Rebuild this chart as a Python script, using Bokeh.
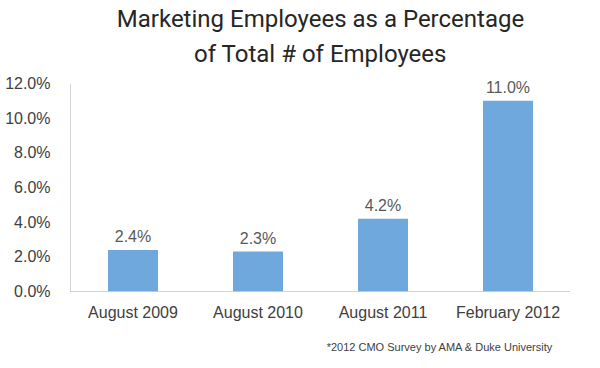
from bokeh.plotting import figure
from bokeh.models import ColumnDataSource, FixedTicker, PrintfTickFormatter, Title, LabelSet, Range1d
from bokeh.core.properties import value
from bokeh.embed import file_html
from bokeh.resources import INLINE

categories = ["August 2009", "August 2010", "August 2011", "February 2012"]
values = [2.4, 2.3, 4.2, 11.0]
labels = ["2.4%", "2.3%", "4.2%", "11.0%"]
y_ticks = [0, 2, 4, 6, 8, 10, 12]

FONT = "Liberation Sans"
TFONT = "Roboto"
TXT = "#404040"

src = ColumnDataSource(dict(cat=categories, val=values, lab=labels))

p = figure(x_range=categories, y_range=Range1d(0, 12.63), width=600, height=368,
           output_backend="svg", toolbar_location=None,
           min_border_left=70, min_border_right=30, min_border_top=72, min_border_bottom=76)
p.outline_line_color = None
p.xgrid.grid_line_color = None
p.ygrid.grid_line_color = None

p.vbar(x="cat", top="val", width=0.4, source=src, fill_color="#6FA8DC", line_color=None)

p.add_layout(LabelSet(x="cat", y="val", text="lab", source=src, text_align="center",
                      text_baseline="bottom", y_offset=5, text_font_size=value("16px"),
                      text_color=value("#595959"), text_font=value(FONT)))

for ax in (p.xaxis, p.yaxis):
    ax.axis_line_color = "#a6a6a6"
    ax.axis_line_dash = "1 1"
    ax.axis_line_width = 1
    ax.major_tick_line_color = None
    ax.minor_tick_line_color = None
    ax.major_label_text_font = FONT
    ax.major_label_text_font_size = "16px"
    ax.major_label_text_color = TXT

p.yaxis.ticker = FixedTicker(ticks=y_ticks)
p.yaxis.bounds = (0, 12)
p.yaxis.formatter = PrintfTickFormatter(format="%.1f%%")
p.yaxis.major_label_standoff = 14
p.xaxis.major_label_standoff = 6

p.title = None
foot = Title(text="*2012 CMO Survey by AMA & Duke University", align="right",
             text_font=FONT, text_font_size="11px", text_font_style="normal",
             text_color=TXT, offset=17, standoff=31)
p.add_layout(foot, "below")

t2 = Title(text="of Total # of Employees", align="center", text_font=TFONT,
           text_font_size="24px", text_font_style="normal", text_color="#262626",
           standoff=10)
t1 = Title(text="Marketing Employees as a Percentage", align="center", text_font=TFONT,
           text_font_size="24px", text_font_style="normal", text_color="#262626",
           standoff=0)
p.add_layout(t2, "above")
p.add_layout(t1, "above")

open("out.html", "w").write(file_html(p, INLINE))
